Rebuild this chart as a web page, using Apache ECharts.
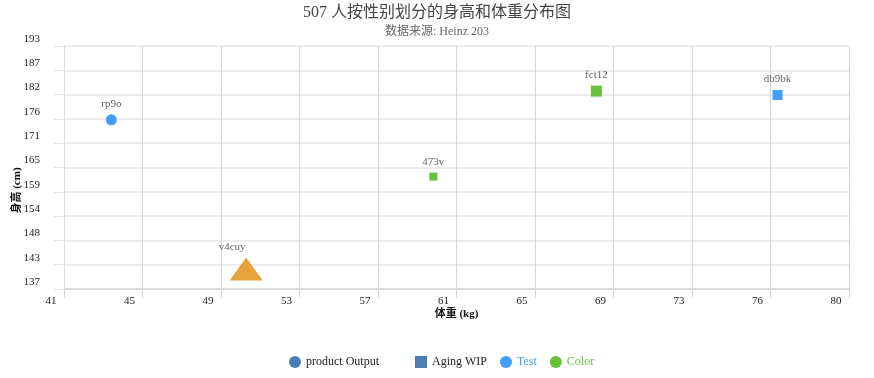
<!DOCTYPE html>
<html>
<head>
<meta charset="utf-8">
<style>
  html, body { margin: 0; padding: 0; background: #fff; }
  #chart { width: 874px; height: 378px; }
</style>
<script src="https://cdn.jsdelivr.net/npm/echarts@6/dist/echarts.min.js"></script>
</head>
<body>
<div id="chart"></div>
<script>
// ---- data ----
var titleText = '507 人按性别划分的身高和体重分布图';
var subText = '数据来源: Heinz 203';
var xName = '体重 (kg)';
var yName = '身高 (cm)';
var seriesNames = ['product Output', 'Aging WIP', 'Test', 'Color'];

var productNames = ['v4cuy'];
var productWeight = [50.4];
var productHeight = [141.6];

var agingNames = [];
var agingWeight = [];
var agingHeight = [];

var testNames = ['rp9o', 'db9bk'];
var testWeight = [43.7, 76.8];
var testHeight = [176.0, 181.7];

var colorNames = ['473v', 'fct12'];
var colorWeight = [59.7, 67.8];
var colorHeight = [162.9, 182.6];

// axis range (tick labels shown rounded: 41,45,...,80 and 137,143,...,193)
var xMin = 41.35, xMax = 80.35, xStep = 3.9;
var yMin = 137, yMax = 193, yStep = 5.6;

// ---- styles ----
var FONT = '"Liberation Serif", "Noto Sans CJK SC", serif';
var BLUE = '#409EFF', GREEN = '#67C23A', ORANGE = '#E6A23C', STEEL = '#4A7FB5';
var pointStyle = {
  'v4cuy': { symbol: 'triangle', symbolSize: [33, 23], color: ORANGE, labelOffset: [-14, 0] },
  'rp9o': { symbol: 'circle', symbolSize: 11, color: BLUE },
  'db9bk': { symbol: 'rect', symbolSize: 10, color: BLUE },
  '473v': { symbol: 'rect', symbolSize: 8, color: GREEN },
  'fct12': { symbol: 'rect', symbolSize: 11, color: GREEN }
};

function build(names, xs, ys) {
  return names.map(function (n, i) {
    var s = pointStyle[n] || {};
    var d = { name: n, value: [xs[i], ys[i]] };
    if (s.symbol) d.symbol = s.symbol;
    if (s.symbolSize) d.symbolSize = s.symbolSize;
    if (s.color) d.itemStyle = { color: s.color, opacity: 1 };
    if (s.labelOffset) d.label = { offset: s.labelOffset };
    return d;
  });
}

var labelCfg = {
  show: true, position: 'top', formatter: '{b}',
  color: '#666', fontSize: 11, fontFamily: FONT
};

var legendBase = {
  bottom: 5, itemWidth: 12, itemHeight: 12, itemGap: 13,
  textStyle: { fontSize: 12, color: '#222', fontFamily: FONT }
};

var chart = echarts.init(document.getElementById('chart'));
chart.setOption({
  backgroundColor: '#fff',
  animation: false,
  textStyle: { fontFamily: FONT },
  title: {
    text: titleText, subtext: subText, left: 'center', top: 0, itemGap: 5,
    textStyle: { fontSize: 16, fontWeight: 'normal', color: '#444', fontFamily: FONT },
    subtextStyle: { fontSize: 12, color: '#666', fontFamily: FONT }
  },
  legend: [
    Object.assign({}, legendBase, { left: 284, data: [seriesNames[0]] }),
    Object.assign({}, legendBase, { left: 410, data: [
      seriesNames[1],
      { name: seriesNames[2], textStyle: { color: BLUE } },
      { name: seriesNames[3], textStyle: { color: GREEN } }
    ] })
  ],
  grid: { left: 64, right: 25, top: 46, bottom: 89, containLabel: false, outerBoundsMode: 'none' },
  xAxis: {
    type: 'value', min: xMin, max: xMax, interval: xStep,
    name: xName, nameLocation: 'middle', nameGap: 20, nameMoveOverlap: false,
    nameTextStyle: { fontSize: 11, color: '#111', fontFamily: FONT, fontWeight: 'bold' },
    axisLine: { show: true, lineStyle: { color: '#dcdcdc', width: 2 } },
    axisTick: { show: true, length: 9, lineStyle: { color: '#d6d6d6' } },
    axisLabel: {
      margin: 7, fontSize: 11, color: '#222', fontFamily: FONT, padding: [0, 26, 0, 0],
      formatter: function (v) { return Math.round(v); }
    },
    splitLine: { show: true, lineStyle: { color: '#d6d6d6' } }
  },
  yAxis: {
    type: 'value', min: yMin, max: yMax, interval: yStep,
    name: yName, nameLocation: 'middle', nameGap: 41, nameMoveOverlap: false,
    nameTextStyle: { fontSize: 11, color: '#111', fontFamily: FONT, fontWeight: 'bold', padding: [0, 46, 0, 0] },
    axisLine: { show: true, lineStyle: { color: '#dcdcdc', width: 1 } },
    axisTick: { show: true, length: 10, lineStyle: { color: '#e6e6e6' } },
    axisLabel: {
      margin: 24, fontSize: 11, color: '#222', fontFamily: FONT,
      verticalAlign: 'bottom', lineHeight: 14,
      formatter: function (v) { return Math.round(v); }
    },
    splitLine: { show: true, lineStyle: { color: '#e6e6e6', width: 1.5 } }
  },
  series: [
    { name: seriesNames[0], type: 'scatter', symbol: 'circle', itemStyle: { color: STEEL, opacity: 1 },
      label: labelCfg, data: build(productNames, productWeight, productHeight) },
    { name: seriesNames[1], type: 'scatter', symbol: 'rect', itemStyle: { color: STEEL, opacity: 1 },
      label: labelCfg, data: build(agingNames, agingWeight, agingHeight) },
    { name: seriesNames[2], type: 'scatter', symbol: 'circle', itemStyle: { color: BLUE, opacity: 1 },
      label: labelCfg, data: build(testNames, testWeight, testHeight) },
    { name: seriesNames[3], type: 'scatter', symbol: 'circle', itemStyle: { color: GREEN, opacity: 1 },
      label: labelCfg, data: build(colorNames, colorWeight, colorHeight) }
  ]
});
</script>
</body>
</html>
